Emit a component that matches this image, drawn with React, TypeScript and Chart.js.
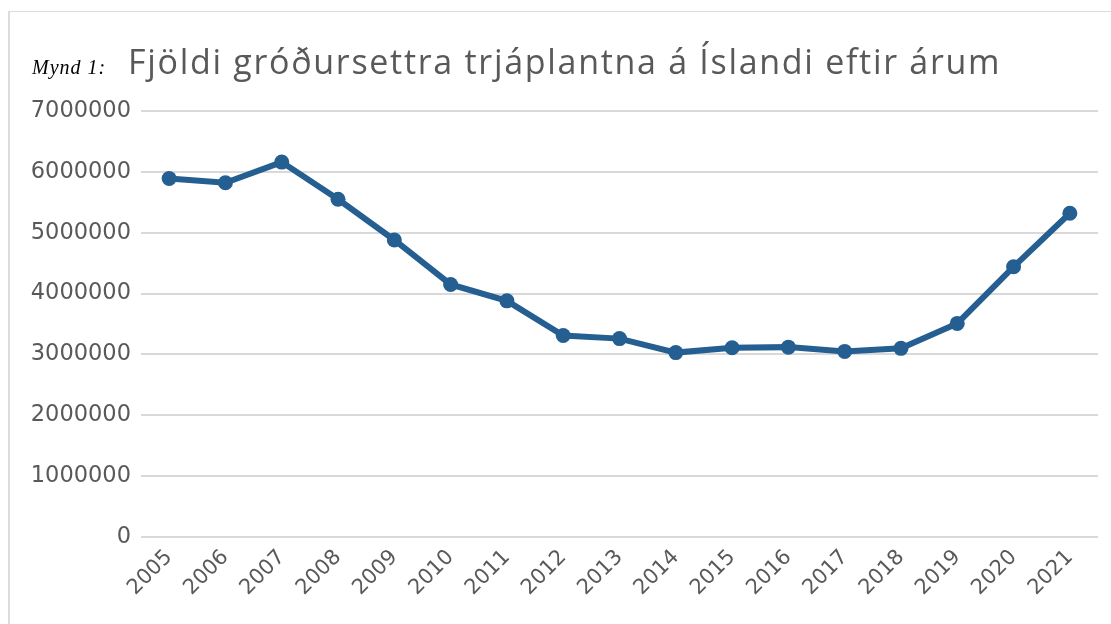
import React, { useEffect, useRef } from "react";
import { Chart, registerables } from "chart.js";

Chart.register(...registerables);

const years = ["2005", "2006", "2007", "2008", "2009", "2010", "2011", "2012", "2013", "2014", "2015", "2016", "2017", "2018", "2019", "2020", "2021"];
const plantedTrees = [5890000, 5820000, 6160000, 5550000, 4880000, 4150000, 3880000, 3310000, 3260000, 3030000, 3110000, 3120000, 3050000, 3100000, 3510000, 4440000, 5320000];
const yMin = 0;
const yMax = 7000000;
const yStep = 1000000;

const figureLabel = "Mynd 1:";
const chartTitle = "Fjöldi gróðursettra trjáplantna á Íslandi eftir árum";

const LINE_COLOR = "#255f92";
const GRID_COLOR = "#d9d9d9";
const TEXT_COLOR = "#595959";

export default function App() {
  const canvasRef = useRef<HTMLCanvasElement | null>(null);

  useEffect(() => {
    if (!canvasRef.current) return;
    const chart = new Chart(canvasRef.current, {
      type: "line",
      data: {
        labels: years,
        datasets: [
          {
            data: plantedTrees,
            borderColor: LINE_COLOR,
            backgroundColor: LINE_COLOR,
            borderWidth: 6,
            pointRadius: 7.5,
            pointBackgroundColor: LINE_COLOR,
            pointBorderColor: LINE_COLOR,
            pointBorderWidth: 0,
            tension: 0,
          },
        ],
      },
      options: {
        responsive: false,
        animation: false,
        layout: { padding: { top: 99, right: 13, left: 0, bottom: 0 } },
        plugins: {
          legend: { display: false },
          title: { display: false },
          tooltip: { enabled: false },
        },
        scales: {
          x: {
            offset: true,
            grid: { display: false, drawTicks: false },
            border: { display: false },
            ticks: {
              color: TEXT_COLOR,
              font: { family: "'DejaVu Sans'", size: 21 },
              minRotation: 45,
              maxRotation: 45,
              padding: 8,
              autoSkip: false,
            },
            afterFit: (scale: any) => {
              scale.height = 87;
            },
          },
          y: {
            min: yMin,
            max: yMax,
            grid: { color: GRID_COLOR, lineWidth: 2, drawTicks: false },
            border: { display: false },
            ticks: {
              stepSize: yStep,
              color: TEXT_COLOR,
              font: { family: "'DejaVu Sans'", size: 22.5 },
              padding: 10,
              callback: (v: any) => String(v),
            },
            afterFit: (scale: any) => {
              scale.width = 131;
            },
          },
        },
      },
    });
    return () => chart.destroy();
  }, []);

  return (
    <div
      style={{
        position: "fixed",
        left: 8,
        top: 11,
        width: 1103,
        height: 613,
        boxSizing: "border-box",
        borderLeft: "2px solid #dcdcdc",
        borderTop: "1px solid #dcdcdc",
        background: "#fff",
      }}
    >
      <canvas
        ref={canvasRef}
        width={1101}
        height={612}
        style={{ position: "absolute", left: 0, top: 0, width: 1101, height: 612 }}
      />
      <div
        style={{
          position: "absolute",
          left: 22,
          top: 26,
          display: "flex",
          alignItems: "baseline",
          whiteSpace: "nowrap",
        }}
      >
        <span
          style={{
            width: 96,
            fontFamily: "'Liberation Serif', 'DejaVu Serif', serif",
            fontStyle: "italic",
            fontSize: 20,
            letterSpacing: 1,
            color: "#000",
          }}
        >
          {figureLabel}
        </span>
        <span
          style={{
            fontFamily: "'Open Sans', sans-serif",
            fontSize: 34,
            letterSpacing: 1.7,
            color: TEXT_COLOR,
          }}
        >
          {chartTitle}
        </span>
      </div>
    </div>
  );
}
